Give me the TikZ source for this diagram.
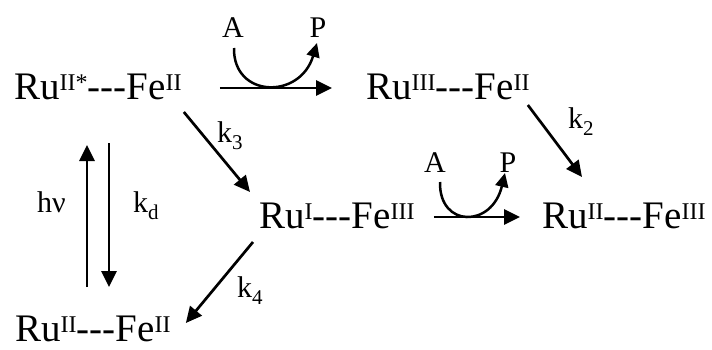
\documentclass[tikz,border=0pt]{standalone}
\usepackage{fontspec}
\setmainfont{Liberation Serif}[Ligatures=TeXOff]
\usetikzlibrary{arrows.meta,calc}
\newcommand{\supx}[1]{\raisebox{9pt}{\fontsize{24}{24}\selectfont #1}}
\newcommand{\subx}[1]{\raisebox{-7pt}{\fontsize{21}{21}\selectfont #1}}
\begin{document}
\begin{tikzpicture}[x=1pt,y=-1pt,
  species/.style={inner sep=0pt, anchor=base west, font=\fontsize{39}{41}\selectfont},
  lbl/.style={inner sep=0pt, font=\fontsize{30}{32}\selectfont},
  arr/.style={line width=2.7pt, -{Triangle[length=16pt,width=15pt]}},
  carr/.style={line width=2.5pt, -{Triangle[length=14pt,width=13pt]}}]
\fill[white] (0,0) rectangle (712,349);
\useasboundingbox (0,0) rectangle (712,349);

% species
\node[species] (n1) at (14,99)  {Ru\supx{II*}---Fe\supx{II}};
\node[species] (n2) at (366,99) {Ru\supx{III}---Fe\supx{II}};
\node[species] (n3) at (259,228) {Ru\supx{I}---Fe\supx{III}};
\node[species] (n4) at (542,228) {Ru\supx{II}---Fe\supx{III}};
\node[species] (n5) at (15,341) {Ru\supx{II}---Fe\supx{II}};

% labels
\node[lbl, anchor=base] (A1) at (233,37) {A};
\node[lbl, anchor=base] (P1) at (318,37) {P};
\node[lbl, anchor=base] (A2) at (435,172) {A};
\node[lbl, anchor=base] (P2) at (508,172) {P};
\node[lbl, anchor=base west] (k3) at (217,142) {k\subx{3}};
\node[lbl, anchor=base west] (k2) at (568,128) {k\subx{2}};
\node[lbl, anchor=base west] (k4) at (237,297) {k\subx{4}};
\node[lbl, anchor=base west] (kd) at (133,212) {k\subx{d}};
\node[lbl, anchor=base west] (hv) at (37,212) {hν};

% straight arrows
\draw[arr] ($(n1.base east)+(38,-11)$) -- ($(n2.base west)+(-34,-11)$);
\draw[arr] ($(n1.base east)+(2,13)$) -- ($(n3.base west)+(-9,-36)$);
\draw[arr] ($(n2.base east)+(-2,6)$) -- ($(n4.base west)+(40,-51)$);
\draw[arr] ($(n3.base west)+(-6,14)$) -- ($(n5.base east)+(15,-18)$);
\draw[arr] ($(n3.base east)+(19,-11)$) -- ($(n4.base west)+(-22,-11)$);
\draw[arr] ($(n5.base west)+(72,-54)$) -- ($(n1.base west)+(73,46)$);
\draw[arr] ($(n1.base west)+(95,44)$) -- ($(n5.base west)+(94,-54)$);

% curved arrows
\draw[carr] ($(A1.base)+(1,11)$) .. controls ($(A1.base)+(0,61)$) and ($(P1.base)+(-18,63)$) .. ($(P1.base)+(-1,6)$);
\draw[carr] ($(A2.base)+(5,10)$) .. controls ($(A2.base)+(4,56)$) and ($(P2.base)+(-16,56)$) .. ($(P2.base)+(-3,1)$);
\end{tikzpicture}
\end{document}
